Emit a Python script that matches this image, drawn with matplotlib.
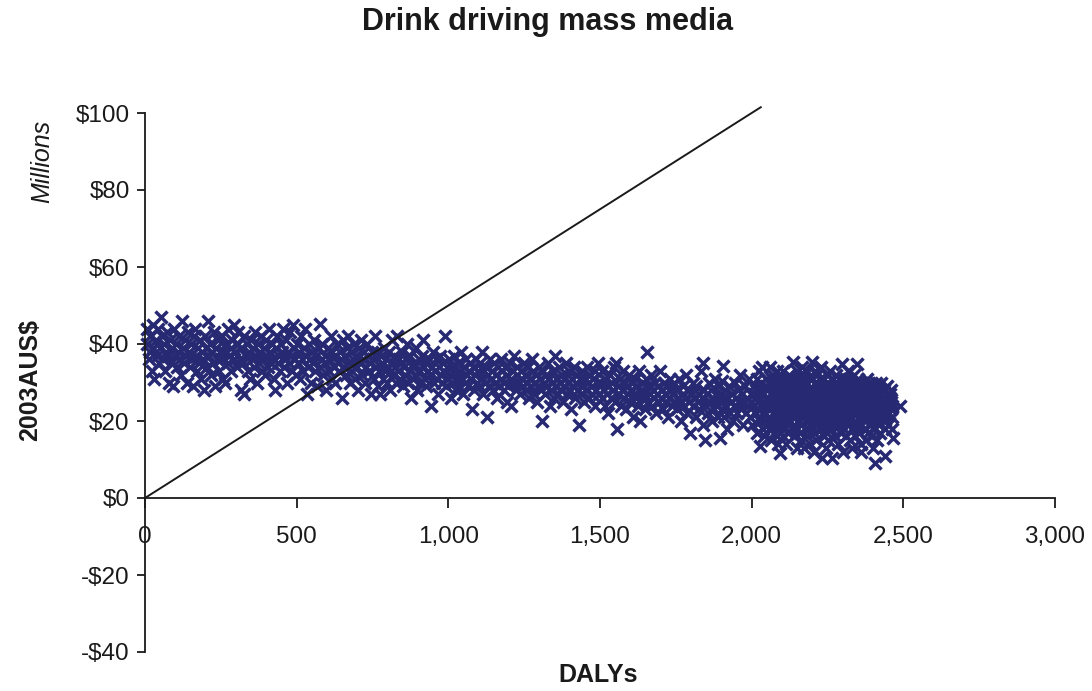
import matplotlib.pyplot as plt

plt.rcParams['font.family'] = ['Liberation Sans', 'DejaVu Sans']

# Simulated (DALYs, cost in $m) pairs, grouped along the DALY axis
band_a = [(5, 44), (8, 40), (12, 36), (15, 42), (18, 38), (22, 33), (25, 45), (28, 39), (30, 31), (35, 41),
          (38, 37), (42, 44), (45, 35), (48, 39), (52, 47), (55, 42), (58, 36), (62, 40), (65, 33), (68, 38),
          (72, 43), (75, 37), (78, 30), (82, 41), (85, 35), (88, 39), (92, 29), (95, 44), (98, 37), (102, 40),
          (105, 34), (108, 38), (112, 42), (115, 36), (118, 32), (122, 46), (125, 39), (128, 35), (132, 41),
          (135, 37), (138, 30), (142, 43), (145, 38), (148, 34), (152, 40), (155, 36), (158, 29), (162, 42),
          (165, 44), (168, 37), (172, 33), (175, 39), (178, 35), (182, 41), (185, 31), (188, 38), (192, 36),
          (195, 28), (198, 42), (202, 39), (205, 34), (208, 46), (212, 37), (215, 40), (218, 32), (222, 38),
          (225, 35), (228, 43), (232, 29), (235, 39), (238, 36), (242, 41), (245, 33), (248, 38)]
band_b = [(252, 36), (255, 42), (258, 31), (262, 38), (265, 30), (268, 40), (272, 35), (275, 44), (278, 37),
          (282, 33), (285, 39), (288, 41), (292, 36), (295, 45), (298, 38), (302, 34), (305, 40), (308, 43),
          (312, 36), (315, 28), (318, 39), (322, 35), (325, 42), (328, 27), (332, 37), (335, 40), (338, 33),
          (342, 38), (345, 31), (348, 41), (352, 36), (355, 39), (358, 34), (362, 43), (365, 37), (368, 30),
          (372, 40), (375, 35), (378, 38), (382, 42), (385, 33), (388, 36), (392, 39), (395, 32), (398, 41),
          (402, 37), (405, 34), (408, 44), (412, 38), (415, 35), (418, 40), (422, 36), (425, 31), (428, 28),
          (432, 39), (435, 42), (438, 35), (442, 37), (445, 33), (448, 40), (452, 38), (455, 44), (458, 34),
          (462, 36), (465, 41), (468, 30), (472, 38), (475, 35), (478, 43), (482, 37), (485, 33), (488, 45),
          (492, 39), (495, 36), (498, 32)]
band_c = [(502, 40), (505, 35), (508, 38), (512, 31), (515, 42), (518, 36), (522, 33), (525, 39), (528, 44),
          (532, 37), (535, 27), (538, 34), (542, 40), (545, 36), (548, 30), (552, 38), (555, 35), (558, 41),
          (562, 33), (565, 37), (568, 29), (572, 39), (577, 45.3), (578, 34), (582, 36), (585, 40), (588, 32),
          (592, 37), (595, 35), (598, 28), (602, 39), (605, 33), (608, 36), (612, 42), (615, 31), (618, 38),
          (622, 34), (625, 37), (628, 30), (632, 40), (635, 35), (638, 33), (642, 38), (645, 36), (648, 26),
          (652, 41), (655, 34), (658, 37), (662, 32), (665, 39), (668, 42), (672, 35), (675, 30), (678, 38),
          (682, 33), (685, 36), (688, 40), (692, 31), (695, 37), (698, 34), (702, 28), (705, 39), (708, 35),
          (712, 41), (715, 32), (718, 36), (722, 38), (725, 30), (728, 34), (732, 40), (735, 37), (738, 33),
          (742, 35), (745, 27), (748, 38)]
band_d = [(752, 36), (755, 31), (758, 42), (762, 34), (765, 38), (768, 29), (772, 33), (775, 27), (778, 37),
          (782, 35), (785, 31), (788, 39), (792, 33), (795, 36), (798, 30), (802, 34), (805, 38), (808, 28),
          (812, 35), (815, 41), (818, 32), (822, 37), (825, 34), (828, 30), (832, 42), (835, 33), (838, 36),
          (842, 31), (845, 35), (848, 38), (852, 29), (855, 34), (858, 32), (862, 36), (865, 40), (868, 30),
          (872, 33), (875, 37), (878, 26), (882, 34), (885, 31), (888, 35), (892, 39), (895, 32), (898, 28),
          (902, 36), (905, 33), (908, 30), (912, 37), (915, 34), (918, 41), (922, 31), (925, 35), (928, 29),
          (932, 33), (935, 36), (938, 32), (942, 24), (945, 34), (948, 38), (952, 30), (955, 33), (958, 36),
          (962, 31), (965, 27), (968, 34), (972, 37), (975, 32), (978, 30), (982, 35), (985, 33), (988, 42),
          (992, 29), (995, 34), (998, 31)]
band_e = [(1002, 36), (1005, 32), (1008, 26), (1012, 34), (1015, 30), (1018, 37), (1022, 33), (1025, 28),
          (1028, 31), (1032, 35), (1035, 29), (1038, 33), (1042, 38), (1045, 31), (1048, 27), (1052, 34),
          (1055, 30), (1058, 36), (1062, 32), (1065, 29), (1068, 33), (1072, 35), (1075, 31), (1078, 23),
          (1082, 34), (1085, 28), (1088, 32), (1092, 36), (1095, 30), (1098, 33), (1102, 29), (1105, 35),
          (1108, 31), (1112, 38), (1115, 27), (1118, 33), (1122, 30), (1125, 34), (1128, 21), (1132, 32),
          (1135, 29), (1138, 36), (1142, 31), (1145, 33), (1148, 28), (1152, 35), (1155, 30), (1158, 32),
          (1162, 26), (1165, 34), (1168, 29), (1172, 31), (1175, 36), (1178, 33), (1182, 28), (1185, 30),
          (1188, 34), (1192, 25), (1195, 32), (1198, 29), (1202, 35), (1205, 31), (1208, 24), (1212, 33),
          (1215, 30), (1218, 37), (1222, 28), (1225, 32), (1228, 34), (1232, 30), (1235, 27), (1238, 33),
          (1242, 31), (1245, 29), (1248, 35)]
band_f = [(1252, 32), (1255, 28), (1258, 30), (1262, 34), (1265, 26), (1268, 31), (1272, 29), (1275, 36),
          (1278, 33), (1282, 27), (1285, 30), (1288, 32), (1292, 25), (1295, 29), (1298, 34), (1302, 31),
          (1305, 28), (1308, 20), (1312, 33), (1315, 30), (1318, 27), (1322, 32), (1325, 29), (1328, 35),
          (1332, 31), (1335, 24), (1338, 28), (1342, 30), (1345, 33), (1348, 26), (1352, 37), (1355, 29),
          (1358, 31), (1362, 27), (1365, 34), (1368, 30), (1372, 28), (1375, 32), (1378, 25), (1382, 29),
          (1385, 31), (1388, 35), (1392, 27), (1395, 30), (1398, 33), (1402, 28), (1405, 23), (1408, 31),
          (1412, 29), (1415, 34), (1418, 26), (1422, 30), (1425, 32), (1428, 28), (1432, 19), (1435, 31),
          (1438, 27), (1442, 33), (1445, 29), (1448, 25), (1452, 31), (1455, 28), (1458, 34), (1462, 30),
          (1465, 26), (1468, 32), (1472, 29), (1475, 27), (1478, 31), (1482, 24), (1485, 33), (1488, 28),
          (1492, 30), (1495, 35), (1498, 27)]
band_g = [(1502, 30), (1505, 26), (1508, 33), (1512, 28), (1515, 24), (1518, 31), (1522, 27), (1525, 29),
          (1528, 22), (1532, 32), (1535, 26), (1538, 30), (1542, 28), (1545, 34), (1548, 25), (1552, 35),
          (1555, 18), (1558, 29), (1562, 27), (1565, 31), (1568, 24), (1572, 28), (1575, 33), (1578, 26),
          (1582, 30), (1585, 23), (1588, 29), (1592, 27), (1595, 32), (1598, 25), (1602, 28), (1605, 30),
          (1608, 21), (1612, 27), (1615, 31), (1618, 26), (1622, 29), (1625, 24), (1628, 33), (1632, 20),
          (1635, 28), (1638, 26), (1642, 30), (1645, 27), (1648, 23), (1652, 31), (1655, 38), (1658, 25),
          (1662, 29), (1665, 27), (1668, 32), (1672, 24), (1675, 28), (1678, 26), (1682, 30), (1685, 22),
          (1688, 27), (1692, 29), (1695, 25), (1698, 33), (1702, 26), (1705, 28), (1708, 23), (1712, 30),
          (1715, 27), (1718, 25), (1722, 29), (1725, 21), (1728, 26), (1732, 31), (1735, 28), (1738, 24),
          (1742, 27), (1745, 30), (1748, 25)]
band_h = [(1752, 28), (1755, 23), (1758, 26), (1762, 31), (1765, 25), (1768, 20), (1772, 27), (1775, 29),
          (1778, 24), (1782, 26), (1785, 32), (1788, 22), (1792, 28), (1795, 25), (1798, 17), (1802, 27),
          (1805, 30), (1808, 24), (1812, 26), (1815, 21), (1818, 29), (1822, 25), (1825, 27), (1828, 23),
          (1832, 33), (1835, 26), (1838, 19), (1840, 35), (1842, 28), (1846, 15), (1848, 24), (1852, 27),
          (1855, 22), (1858, 30), (1862, 25), (1865, 28), (1868, 20), (1872, 26), (1875, 23), (1878, 31),
          (1882, 27), (1885, 24), (1888, 21), (1892, 29), (1895, 25), (1896, 15.5), (1898, 27), (1902, 23),
          (1903, 30.5), (1905, 26), (1906, 34.4), (1908, 21), (1912, 28), (1915, 24), (1918, 18), (1922, 26),
          (1925, 29), (1928, 22), (1932, 25), (1935, 27), (1938, 20), (1942, 24), (1945, 30), (1948, 26),
          (1952, 22), (1955, 28), (1958, 25), (1962, 32), (1965, 23), (1968, 27), (1972, 19), (1975, 25),
          (1978, 29), (1982, 22), (1985, 26), (1988, 24), (1992, 31), (1995, 21), (1998, 27)]
cluster_a = [(2003, 24), (2007, 29), (2001, 19), (2009, 27),
             (2013, 22), (2017, 31), (2011, 26), (2019, 17), (2015, 28),
             (2022, 25), (2027, 20), (2024, 33), (2029, 28), (2028, 13.6), (2021, 23),
             (2033, 27), (2038, 22), (2031, 30), (2036, 18), (2039, 25), (2034, 33.9),
             (2042, 24), (2047, 29), (2044, 20), (2049, 26), (2041, 16), (2046, 31), (2043, 22),
             (2053, 26), (2058, 21), (2060, 33.9), (2051, 28), (2056, 18), (2054, 24), (2059, 30),
             (2062, 23), (2068, 27), (2064, 15), (2066, 31), (2069, 20), (2061, 25), (2067, 29), (2063, 18),
             (2073, 28), (2077, 22), (2071, 32), (2078, 19), (2074, 25), (2079, 30), (2072, 17), (2076, 24),
             (2083, 21), (2087, 26), (2081, 29), (2088, 14), (2084, 33), (2086, 23), (2082, 27), (2089, 19),
             (2094, 11.6), (2092, 24), (2097, 28), (2091, 22), (2098, 31), (2093, 17), (2096, 26), (2099, 20),
             (2103, 25), (2108, 30), (2101, 19), (2106, 27), (2109, 22), (2104, 33), (2102, 16), (2107, 24),
             (2113, 23), (2117, 28), (2111, 18), (2118, 31), (2114, 21), (2116, 26), (2112, 14), (2119, 29),
             (2122, 27), (2127, 20), (2124, 32), (2129, 24), (2121, 17), (2126, 29), (2123, 22), (2128, 25),
             (2137, 35.2), (2133, 25), (2138, 19), (2131, 28), (2136, 22), (2134, 31), (2139, 16), (2132, 26),
             (2142, 24), (2147, 29), (2144, 21), (2149, 33), (2141, 18), (2146, 27), (2143, 23), (2148, 13),
             (2153, 26), (2157, 22), (2151, 30), (2158, 17), (2154, 25), (2159, 32), (2152, 20), (2156, 28),
             (2162, 23), (2168, 27), (2164, 15), (2166, 31), (2169, 21), (2161, 25), (2167, 34), (2163, 19),
             (2173, 28), (2177, 22), (2171, 26), (2178, 18), (2174, 32), (2179, 24), (2172, 13), (2176, 29),
             (2183, 25), (2187, 20), (2181, 30), (2188, 23), (2184, 16), (2186, 27), (2182, 33), (2189, 21),
             (2199, 35.2), (2193, 24), (2197, 28), (2191, 19), (2198, 26), (2194, 31), (2196, 22), (2192, 14)]
cluster_b = [(2203, 27), (2207, 21), (2201, 25), (2208, 30), (2204, 17), (2209, 33), (2202, 23), (2206, 12),
             (2213, 23), (2217, 29), (2211, 19), (2218, 26), (2214, 32), (2216, 21), (2212, 15), (2219, 28),
             (2222, 26), (2227, 22), (2224, 31), (2229, 18), (2221, 24), (2226, 28), (2223, 20), (2228, 34),
             (2232, 10.5), (2234, 25), (2238, 29), (2231, 21), (2236, 27), (2239, 16), (2233, 23), (2237, 31),
             (2243, 24), (2247, 28), (2241, 20), (2248, 32), (2244, 26), (2249, 17), (2242, 22), (2246, 13),
             (2253, 27), (2257, 22), (2251, 30), (2258, 19), (2254, 25), (2259, 33), (2252, 15), (2256, 24),
             (2265, 10.5), (2262, 23), (2268, 28), (2264, 20), (2266, 26), (2269, 31), (2261, 18), (2267, 25),
             (2273, 26), (2277, 21), (2271, 29), (2278, 24), (2274, 16), (2279, 32), (2272, 22), (2276, 27),
             (2283, 23), (2287, 28), (2281, 19), (2288, 31), (2284, 25), (2286, 14), (2282, 27), (2289, 21),
             (2298, 34.9), (2293, 25), (2297, 20), (2291, 29), (2296, 23), (2294, 17), (2292, 27), (2299, 31),
             (2303, 24), (2307, 28), (2301, 21), (2308, 26), (2304, 18), (2309, 30), (2302, 12), (2306, 23),
             (2313, 27), (2317, 22), (2311, 31), (2318, 19), (2314, 25), (2319, 29), (2312, 16), (2316, 33),
             (2323, 23), (2327, 26), (2321, 20), (2328, 28), (2324, 15), (2326, 24), (2322, 30), (2329, 21),
             (2333, 25), (2337, 29), (2331, 18), (2338, 27), (2334, 22), (2339, 32), (2332, 13), (2336, 24),
             (2347, 34.9), (2343, 22), (2348, 26), (2341, 19), (2346, 28), (2344, 24), (2349, 30), (2342, 16),
             (2353, 25), (2357, 21), (2351, 29), (2358, 23), (2354, 17), (2356, 27), (2352, 31), (2359, 14),
             (2363, 23), (2367, 27), (2361, 19), (2368, 25), (2364, 30), (2366, 21), (2362, 12), (2369, 28),
             (2373, 26), (2377, 22), (2371, 28), (2378, 18), (2374, 24), (2379, 31), (2372, 20), (2376, 15),
             (2383, 24), (2387, 28), (2381, 21), (2388, 26), (2384, 17), (2386, 30), (2382, 23), (2389, 19),
             (2393, 22), (2397, 27), (2391, 25), (2398, 20), (2394, 29), (2396, 16), (2392, 24), (2399, 13),
             (2407, 9), (2403, 25), (2408, 21), (2401, 28), (2406, 23), (2404, 18), (2409, 30), (2402, 26),
             (2413, 24), (2417, 20), (2411, 27), (2418, 22), (2414, 15), (2416, 29), (2412, 25),
             (2423, 23), (2427, 27), (2421, 19), (2428, 25), (2424, 21), (2426, 30), (2422, 17),
             (2433, 25), (2431, 21), (2436, 28), (2434, 23), (2438, 18), (2432, 26),
             (2440, 11), (2442, 24), (2446, 27), (2441, 20), (2447, 29), (2444, 22),
             (2452, 22), (2456, 26), (2451, 19), (2454, 24), (2458, 28),
             (2458, 25), (2461, 21), (2457, 27), (2460, 23),
             (2463, 18), (2466, 15.7), (2464, 24),
             (2489, 24)]
cluster_core = [(2065, 24), (2075, 27), (2085, 22), (2095, 25), (2105, 28), (2115, 23), (2125, 26),
                (2135, 21), (2145, 25), (2155, 29), (2165, 22), (2175, 26), (2185, 24), (2195, 27),
                (2205, 22), (2215, 25), (2225, 29), (2235, 23), (2245, 26), (2255, 21), (2265, 24),
                (2275, 28), (2285, 22), (2295, 26), (2305, 24), (2315, 21), (2325, 27), (2335, 23),
                (2345, 25), (2355, 28), (2365, 22), (2375, 25), (2385, 27), (2395, 23), (2405, 25),
                (2415, 22), (2070, 19), (2090, 29), (2110, 20), (2130, 30), (2150, 18), (2170, 29),
                (2190, 18), (2210, 30), (2230, 19), (2250, 29), (2270, 19), (2290, 29), (2310, 20),
                (2330, 29), (2350, 19), (2370, 29), (2390, 21), (2410, 27), (2080, 24.5), (2100, 22.5),
                (2120, 26.5), (2140, 23.5), (2160, 27.5), (2180, 21.5), (2200, 24.5), (2220, 27.5),
                (2240, 22.5), (2260, 26.5), (2280, 24.5), (2300, 21.5), (2320, 25.5), (2340, 27.5),
                (2360, 24.5), (2380, 22.5), (2400, 26.5), (2420, 24.5)]

# $50,000 per DALY threshold, in $ millions
threshold_per_daly = 0.05
threshold_end = 2030

xticks = [0, 500, 1000, 1500, 2000, 2500, 3000]
xtick_labels = ['0', '500', '1,000', '1,500', '2,000', '2,500', '3,000']
yticks = [-40, -20, 0, 20, 40, 60, 80, 100]
ytick_labels = ['-$40', '-$20', '$0', '$20', '$40', '$60', '$80', '$100']

points = (band_a + band_b + band_c + band_d + band_e + band_f + band_g + band_h
          + cluster_a + cluster_b + cluster_core)
dalys = [p[0] for p in points]
cost = [p[1] for p in points]

fig = plt.figure(figsize=(10.92, 6.91), dpi=100)
ax = fig.add_axes([145 / 1092, 39 / 691, 910 / 1092, 539 / 691])

ax.plot(dalys, cost, linestyle='none', marker='x', markersize=8, markeredgewidth=2.5,
        color='#272a72', zorder=2, clip_on=False)
ax.plot([0, threshold_end], [0, threshold_per_daly * threshold_end], color='#1a1a1a',
        linewidth=1.4, zorder=3, clip_on=False)

ax.set_xlim(0, 3000)
ax.set_ylim(-40, 100)
ax.spines['top'].set_visible(False)
ax.spines['right'].set_visible(False)
ax.spines['bottom'].set_position(('data', 0))
for side in ['left', 'bottom']:
    ax.spines[side].set_linewidth(1.3)
    ax.spines[side].set_color('#1a1a1a')

ax.set_xticks(xticks)
ax.set_xticklabels(xtick_labels)
ax.set_yticks(yticks)
ax.set_yticklabels(ytick_labels)
ax.tick_params(axis='x', direction='out', length=7, width=1.3, pad=13, labelsize=17.5, colors='#1a1a1a')
ax.tick_params(axis='y', direction='out', length=6, width=1.3, pad=5, labelsize=17.5, colors='#1a1a1a')

fig.text(548 / 1092, 1 - 22 / 691, 'Drink driving mass media', ha='center', va='center',
         fontsize=22, fontweight='bold', color='#1a1a1a')
fig.text(30 / 1092, 1 - 380 / 691, '2003AUS$', ha='center', va='center', rotation=90,
         fontsize=18, fontweight='bold', color='#1a1a1a')
fig.text(42 / 1092, 1 - 161 / 691, 'Millions', ha='center', va='center', rotation=90,
         fontsize=18, fontstyle='italic', color='#1a1a1a')
fig.text(598 / 1092, 1 - 675 / 691, 'DALYs', ha='center', va='center',
         fontsize=18, fontweight='bold', color='#1a1a1a')

fig.savefig('out.png', dpi=100)
